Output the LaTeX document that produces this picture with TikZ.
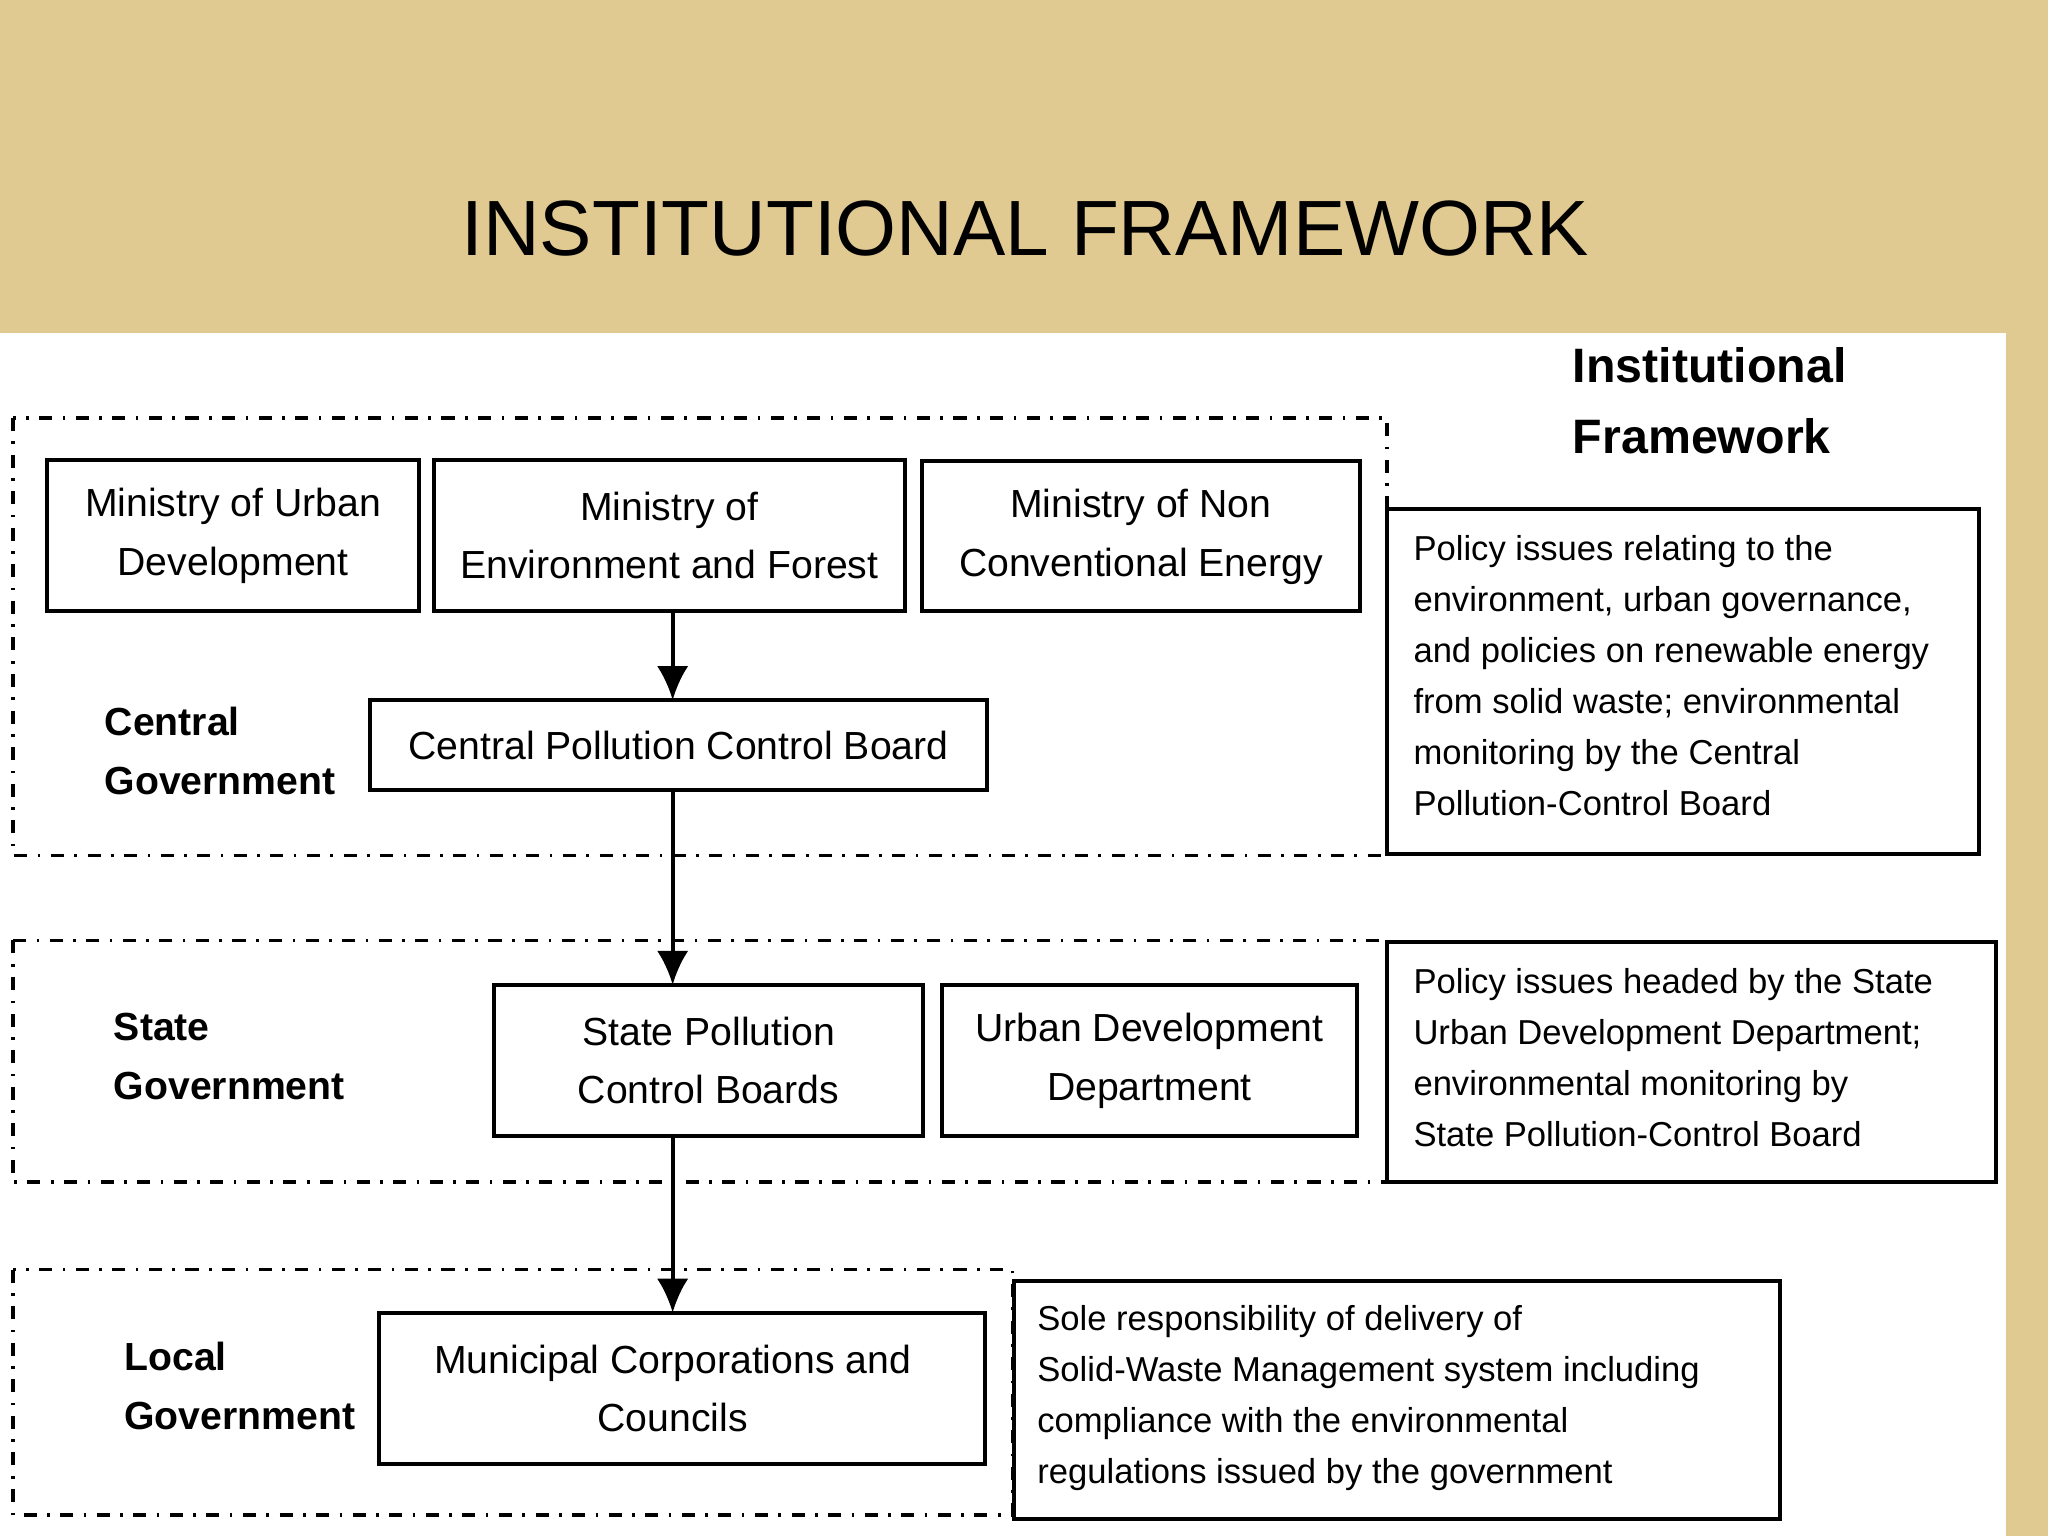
\documentclass[tikz,border=0pt]{standalone}
\usepackage{fontspec}
\setmainfont{Liberation Sans}
\begin{document}
\begin{tikzpicture}[x=1pt,y=-1pt,
  box/.style={draw,line width=3pt,inner sep=0pt},
  grp/.style={draw,line width=2.5pt,dash pattern=on 10pt off 8pt on 2pt off 8pt},
  btxt/.style={font=\fontsize{30}{45}\selectfont,align=center},
  rtxt/.style={font=\fontsize{26.5}{39}\selectfont,align=left,anchor=north west,inner sep=0pt},
  lbl/.style={font=\fontsize{30}{45}\selectfont\bfseries,align=left,anchor=west,inner sep=0pt},
  arr/.style={line width=3pt,-{Latex[length=26pt,width=24pt]}}]
\usetikzlibrary{arrows.meta}
\useasboundingbox (0,0) rectangle (1568,1176);
\fill[color={rgb,255:red,224;green,202;blue,146}] (0,0) rectangle (1568,1176);
\fill[white] (0,255) rectangle (1536,1176);
\node[font=\fontsize{60}{70}\selectfont] (title) at (785,175) {INSTITUTIONAL FRAMEWORK};
\node[font=\fontsize{37}{54}\selectfont\bfseries,align=left,anchor=north west,inner sep=0pt] (ift) at (1204,266) {Institutional\\Framework};
% groups
\draw[grp] (10,320) rectangle (1062,655);
\draw[grp] (10,720) rectangle (1062,905);
\draw[grp] (10,972) rectangle (775,1160);
% boxes
\draw[box] (36,352) rectangle (321,468);
\node[btxt] (mud) at (178.5,410) {Ministry of Urban\\Development};
\draw[box] (332,352) rectangle (693,468);
\node[btxt] (mef) at (512.5,410) {Ministry of\\Environment and Forest};
\draw[box] (706,353) rectangle (1041,468);
\node[btxt] (mnce) at (873.5,411) {Ministry of Non\\Conventional Energy};
\draw[box] (283,536) rectangle (756,605);
\node[btxt] (cpcb) at (519.5,571) {Central Pollution Control Board};
\draw[box] (378,754) rectangle (707,870);
\node[btxt] (spcb) at (542.5,812) {State Pollution\\Control Boards};
\draw[box] (721,754) rectangle (1039,870);
\node[btxt] (udd) at (880,812) {Urban Development\\Department};
\draw[box] (290,1005) rectangle (754,1121);
\node[btxt] (mcc) at (515,1063) {Municipal Corporations and\\Councils};
\coordinate (a1) at (515,468); \coordinate (a2) at (515,536);
\coordinate (b1) at (515,605); \coordinate (b2) at (515,754);
\coordinate (c1) at (515,870); \coordinate (c2) at (515,1005);
\draw[arr] (a1) -- (a2);
\draw[arr] (b1) -- (b2);
\draw[arr] (c1) -- (c2);
% labels
\node[lbl] (cg) at (80,575) {Central\\Government};
\node[lbl] (sg) at (87,809) {State\\Government};
\node[lbl] (lg) at (95,1061) {Local\\Government};
% right boxes
\draw[box] (1062,390) rectangle (1515,654);
\node[rtxt] (t1) at (1082,410) {Policy issues relating to the\\environment, urban governance,\\and policies on renewable energy\\from solid waste; environmental\\monitoring by the Central\\Pollution-Control Board};
\draw[box] (1062,721) rectangle (1528,905);
\node[rtxt] (t2) at (1082,741) {Policy issues headed by the State\\Urban Development Department;\\environmental monitoring by\\State Pollution-Control Board};
\draw[box] (776,981) rectangle (1363,1163);
\node[rtxt] (t3) at (794,999) {Sole responsibility of delivery of\\Solid-Waste Management system including\\compliance with the environmental\\regulations issued by the government};
\end{tikzpicture}
\end{document}
